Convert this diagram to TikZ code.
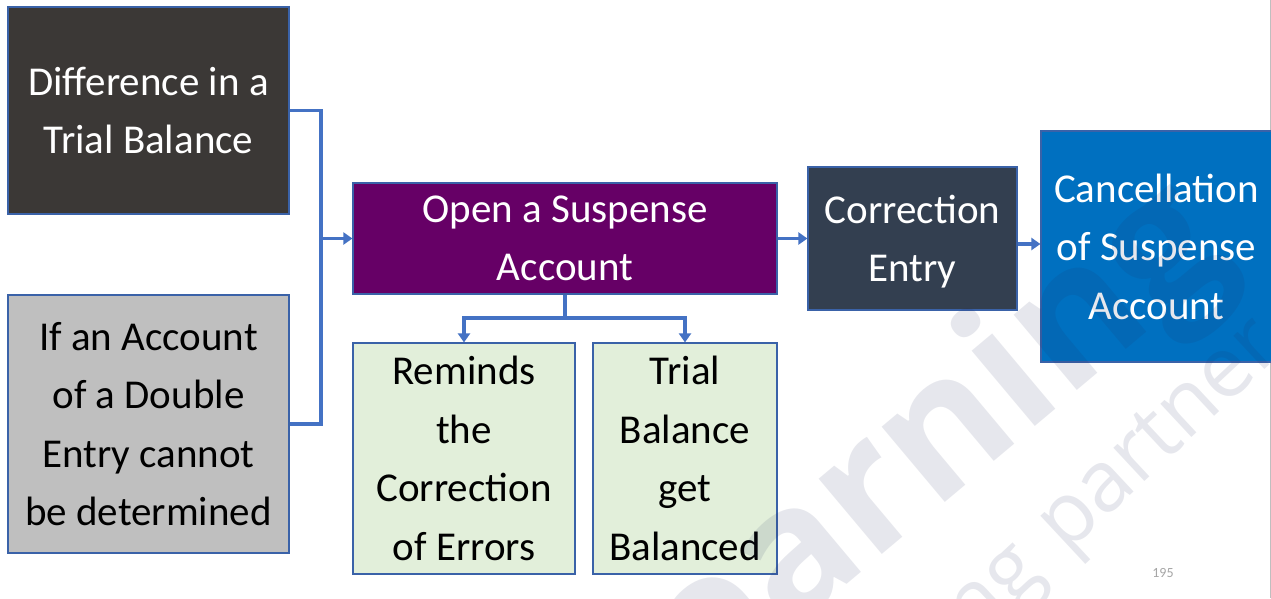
\documentclass[tikz,border=0pt]{standalone}
\usepackage{fontspec}
\setmainfont{Carlito}
\newfontfamily\wmfont{Open Sans}
\usetikzlibrary{arrows.meta,calc}

\definecolor{linkblue}{HTML}{4472C4}
\definecolor{edgeblue}{HTML}{3A62A8}
\definecolor{darkgrey}{HTML}{3B3836}
\definecolor{lightgrey}{HTML}{BFBFBF}
\definecolor{plum}{HTML}{660066}
\definecolor{slate}{HTML}{333F50}
\definecolor{brightblue}{HTML}{0070C0}
\definecolor{palegreen}{HTML}{E2EFDA}
\definecolor{wmcolor}{HTML}{1F2A5C}

\tikzset{
  box/.style={draw=edgeblue, line width=1.2pt, inner sep=0pt, align=center,
              font=\fontsize{41}{58.5}\selectfont},
  darkbox/.style={box, fill=#1, text=white},
  litebox/.style={box, fill=#1, text=black},
  conn/.style={draw=linkblue, line width=3.4pt},
  arr/.style={conn, -{Triangle[width=12pt,length=9pt]}},
  watermark/.style={text=wmcolor, opacity=0.11},
}

\begin{document}
\begin{tikzpicture}[x=1pt, y=-1pt]
  \useasboundingbox (0,0) rectangle (1271,598);
  \fill[white] (0,0) rectangle (1271,598);
  \draw[black!25, line width=1pt] (1270,0) -- (1270,598);

  % boxes
  \node[darkbox=darkgrey, minimum width=281pt, minimum height=207pt] (diff) at (148.5,110.5)
    {Difference in a\\Trial Balance};
  \node[litebox=lightgrey, minimum width=281pt, minimum height=258pt] (undet) at (148.5,424)
    {If an Account\\of a Double\\Entry cannot\\be determined};
  \node[darkbox=plum, minimum width=424pt, minimum height=111pt] (open) at (565,238.5)
    {Open a Suspense\\Account};
  \node[litebox=palegreen, minimum width=222pt, minimum height=231pt] (remind) at (464,458.5)
    {Reminds\\the\\Correction\\of Errors};
  \node[litebox=palegreen, minimum width=184pt, minimum height=231pt] (balanced) at (685,458.5)
    {Trial\\Balance\\get\\Balanced};
  \node[darkbox=slate, minimum width=209pt, minimum height=143pt] (corr) at (912.5,238.5)
    {Correction\\Entr\smash{y}};
  \node[darkbox=brightblue, minimum width=231pt, minimum height=231pt] (cancel) at (1156.5,246.5)
    {Cancellation\\of Suspense\\Account};

  % connectors
  \coordinate (join) at (321,238.5);
  \draw[conn] (diff.east) -| (join) |- (undet.east);
  \draw[arr] (join) -- (open.west);
  \coordinate (split) at (565,318);
  \draw[conn] (open.south) -- (split);
  \draw[arr] (split) -| (remind.north);
  \draw[arr] (split) -| (balanced.north);
  \draw[arr] (open.east) -- (corr.west);
  \draw[arr] ([yshift=-5.5pt]corr.east) -- ([yshift=-5.5pt]corr.east -| cancel.west);

  % page number
  \node[text=black!35, font=\fontsize{14}{16}\selectfont] (page) at (1163,573) {195};

  % watermark
  \begin{scope}
    \clip (0,0) rectangle (1271,598);
    \node[watermark, rotate=40, font=\wmfont\bfseries\fontsize{180}{180}\selectfont]
      (wmbig) at (920,462) {learning};
    \node[watermark, rotate=43, anchor=base west, font=\wmfont\fontsize{85}{85}\selectfont]
      (wmpartner) at (1064,557) {partner};
    \node[watermark, rotate=43, anchor=base east, font=\wmfont\fontsize{85}{85}\selectfont]
      (wmlearn) at (1048,572) {learning};
  \end{scope}
\end{tikzpicture}
\end{document}
